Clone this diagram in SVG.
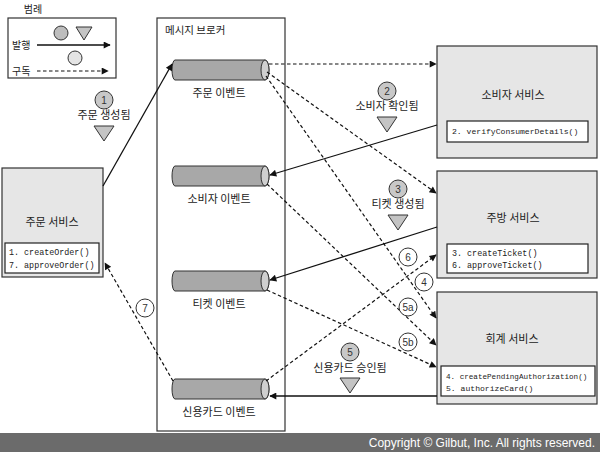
<svg xmlns="http://www.w3.org/2000/svg" width="600" height="452" viewBox="0 0 600 452">
<style>
.ko{font-family:"Noto Sans CJK KR","Noto Sans",sans-serif;font-size:11px;fill:#222}
.ko10{font-size:10px}
.mono{font-family:"Liberation Mono","DejaVu Sans Mono",monospace;font-size:8.4px;fill:#222}
.mono-s{font-size:7.6px}
.mono-m{font-size:8.1px}
.num{font-family:"Liberation Sans",Arial,sans-serif;font-size:10px;fill:#333;text-anchor:middle}
.svc{fill:#e6e6e6;stroke:#333;stroke-width:1.2}
.inner{fill:#fff;stroke:#222;stroke-width:1.2}
.cyl{fill:#a8a8a8;stroke:#333;stroke-width:1}
.cap{fill:#cfcfcf;stroke:#333;stroke-width:1}
.solid{fill:none;stroke:#111;stroke-width:1.3}
.dash{fill:none;stroke:#111;stroke-width:1.2;stroke-dasharray:3.5,2.5}
.step{fill:#c8c8c8;stroke:#333;stroke-width:1}
.stepw{fill:#fff;stroke:#333;stroke-width:1}
.tri{fill:#c4c4c4;stroke:#333;stroke-width:1}
</style>
<defs>
<marker id="ah" viewBox="0 0 10 10" refX="9" refY="5" markerWidth="9" markerHeight="7" markerUnits="userSpaceOnUse" orient="auto"><path d="M0,0 L10,5 L0,10 Z" fill="#111"/></marker>
<g id="cylinder"><path class="cyl" d="M175,0 H265 A4,10 0 0 1 265,20 H175 A3,10 0 0 1 175,0 Z"/><ellipse class="cap" cx="265" cy="10" rx="4" ry="10"/></g>
</defs>
<rect width="600" height="452" fill="#fff"/>

<g id="legend">
<text class="ko ko10" x="33" y="13" text-anchor="middle">범례</text>
<rect x="8" y="18" width="108" height="60" fill="#fff" stroke="#333" stroke-width="1.2"/>
<circle cx="61" cy="33" r="7" fill="#bdbdbd" stroke="#333"/>
<path class="tri" d="M76,27 H92 L84,40 Z"/>
<text class="ko ko10" x="12" y="49">발행</text>
<line class="solid" x1="37" y1="45" x2="110" y2="45" marker-end="url(#ah)"/>
<circle cx="75" cy="58" r="7" fill="#e4e4e4" stroke="#333"/>
<text class="ko ko10" x="12" y="75">구독</text>
<line class="dash" x1="37" y1="71" x2="108" y2="71" marker-end="url(#ah)"/>
</g>

<g id="broker">
<rect x="157" y="18" width="128" height="413" fill="#fff" stroke="#333" stroke-width="1.2"/>
<text class="ko" x="165" y="34" style="font-size:10.5px">메시지 브로커</text>
</g>

<g id="order-events"><use href="#cylinder" y="60"/><text class="ko" x="219" y="97" text-anchor="middle">주문 이벤트</text></g>
<g id="consumer-events"><use href="#cylinder" y="166"/><text class="ko" x="219" y="203" text-anchor="middle">소비자 이벤트</text></g>
<g id="ticket-events"><use href="#cylinder" y="271"/><text class="ko" x="219" y="308" text-anchor="middle">티켓 이벤트</text></g>
<g id="card-events"><use href="#cylinder" y="379"/><text class="ko" x="219" y="416" text-anchor="middle">신용카드 이벤트</text></g>

<g id="order-service">
<rect class="svc" x="2" y="168" width="101" height="109"/>
<text class="ko" x="52" y="226" text-anchor="middle">주문 서비스</text>
<rect class="inner" x="5" y="243" width="94" height="30"/>
<text class="mono" x="9" y="255">1. createOrder()</text>
<text class="mono" x="9" y="268">7. approveOrder()</text>
</g>

<g id="consumer-service">
<rect class="svc" x="437" y="46" width="160" height="112"/>
<text class="ko" x="513" y="99" text-anchor="middle">소비자 서비스</text>
<rect class="inner" x="447" y="121" width="141" height="21"/>
<text class="mono mono-m" x="452" y="134">2. verifyConsumerDetails()</text>
</g>

<g id="kitchen-service">
<rect class="svc" x="437" y="171" width="160" height="107"/>
<text class="ko" x="513" y="222" text-anchor="middle">주방 서비스</text>
<rect class="inner" x="447" y="244" width="141" height="29"/>
<text class="mono" x="452" y="256">3. createTicket()</text>
<text class="mono" x="452" y="268">6. approveTicket()</text>
</g>

<g id="accounting-service">
<rect class="svc" x="437" y="292" width="160" height="112"/>
<text class="ko" x="512" y="343" text-anchor="middle">회계 서비스</text>
<rect class="inner" x="441" y="366" width="154" height="30"/>
<text class="mono mono-s" x="446" y="379">4. createPendingAuthorization()</text>
<text class="mono mono-m" x="446" y="391">5. authorizeCard()</text>
</g>

<g id="connectors">
<line class="solid" x1="103" y1="186" x2="172" y2="64" marker-end="url(#ah)"/>
<line class="dash" x1="269" y1="64" x2="436" y2="64" marker-end="url(#ah)"/>
<line class="dash" x1="267" y1="72" x2="436" y2="193" marker-end="url(#ah)"/>
<line class="dash" x1="266" y1="76" x2="436" y2="318" marker-end="url(#ah)"/>
<line class="solid" x1="437" y1="125" x2="270" y2="175" marker-end="url(#ah)"/>
<line class="dash" x1="267" y1="184" x2="436" y2="345" marker-end="url(#ah)"/>
<line class="solid" x1="437" y1="227" x2="270" y2="280" marker-end="url(#ah)"/>
<line class="dash" x1="267" y1="290" x2="436" y2="367" marker-end="url(#ah)"/>
<line class="solid" x1="437" y1="396" x2="270" y2="396" marker-end="url(#ah)"/>
<line class="dash" x1="266" y1="381" x2="436" y2="255" marker-end="url(#ah)"/>
<line class="dash" x1="173" y1="381" x2="105" y2="263" marker-end="url(#ah)"/>
</g>

<g id="step1"><circle class="step" cx="104" cy="100" r="9"/><text class="num" x="104" y="104">1</text><text class="ko" x="104" y="119" text-anchor="middle">주문 생성됨</text><path class="tri" d="M94,126 H114 L104,141 Z"/></g>
<g id="step2"><circle class="step" cx="387" cy="91" r="9"/><text class="num" x="387" y="95">2</text><text class="ko" x="387" y="110" text-anchor="middle">소비자 확인됨</text><path class="tri" d="M377,117 H397 L387,132 Z"/></g>
<g id="step3"><circle class="step" cx="398" cy="189" r="9"/><text class="num" x="398" y="193">3</text><text class="ko" x="398" y="208" text-anchor="middle">티켓 생성됨</text><path class="tri" d="M388,215 H408 L398,230 Z"/></g>
<g id="step5"><circle class="step" cx="350" cy="352" r="9"/><text class="num" x="350" y="356">5</text><text class="ko" x="350" y="372" text-anchor="middle">신용카드 승인됨</text><path class="tri" d="M340,378 H360 L350,393 Z"/></g>
<g id="step4"><circle class="stepw" cx="424" cy="282" r="9"/><text class="num" x="424" y="286">4</text></g>
<g id="step6"><circle class="stepw" cx="408" cy="257" r="9"/><text class="num" x="408" y="261">6</text></g>
<g id="step5a"><circle class="stepw" cx="408" cy="307" r="9"/><text class="num" x="408" y="311">5a</text></g>
<g id="step5b"><circle class="stepw" cx="408" cy="342" r="9"/><text class="num" x="408" y="346">5b</text></g>
<g id="step7"><circle class="stepw" cx="145" cy="308" r="9"/><text class="num" x="145" y="312">7</text></g>

<g id="footer">
<rect x="0" y="433" width="600" height="19" fill="#6b6b6b"/>
<text x="595" y="447" text-anchor="end" font-family="Liberation Sans,Arial,sans-serif" font-size="12" fill="#fff">Copyright © Gilbut, Inc. All rights reserved.</text>
</g>
</svg>
